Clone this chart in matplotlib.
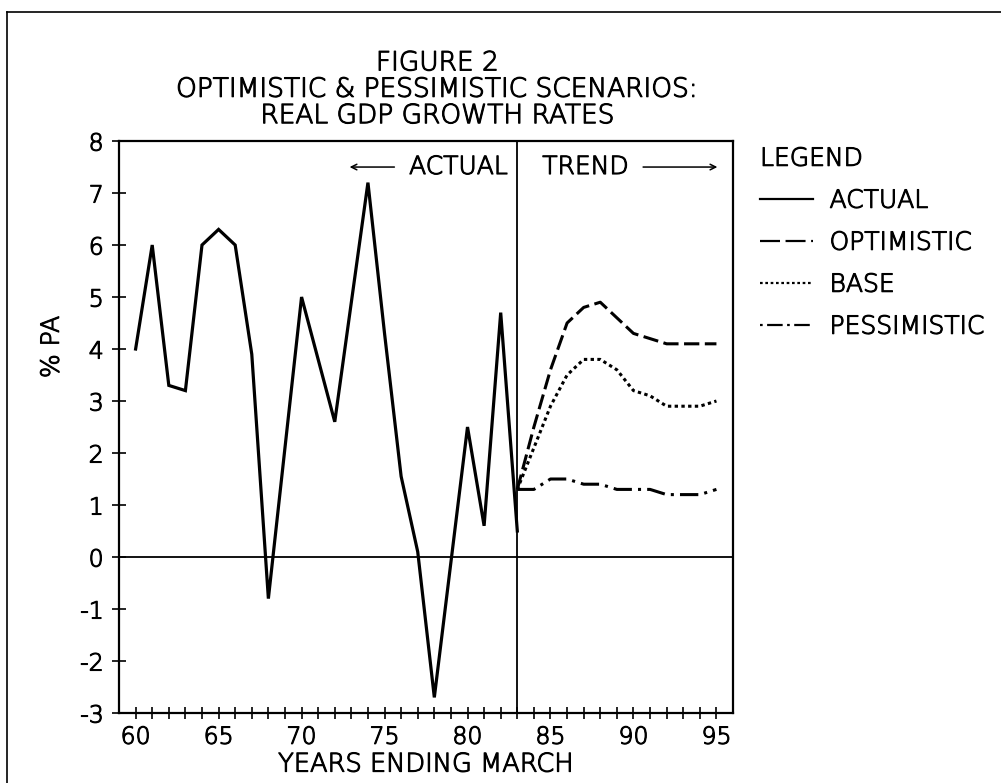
import matplotlib
matplotlib.use("Agg")
import matplotlib.pyplot as plt
import matplotlib.patheffects as pe
from matplotlib.lines import Line2D

# ---- data ----
actual_years = list(range(60, 84))
actual_vals = [4.0, 6.0, 3.3, 3.2, 6.0, 6.3, 6.0, 3.9, -0.8, 2.1, 5.0, 3.8,
               2.6, 4.9, 7.2, 4.3, 1.55, 0.1, -2.7, -0.1, 2.5, 0.6, 4.7, 0.5]

trend_years = list(range(83, 96))
optimistic = [1.3, 2.5, 3.6, 4.5, 4.8, 4.9, 4.6, 4.3, 4.2, 4.1, 4.1, 4.1, 4.1]
base = [1.3, 2.1, 2.9, 3.5, 3.8, 3.8, 3.6, 3.2, 3.1, 2.9, 2.9, 2.9, 3.0]
pessimistic = [1.3, 1.3, 1.5, 1.5, 1.4, 1.4, 1.3, 1.3, 1.3, 1.2, 1.2, 1.2, 1.3]

xticks = [60, 65, 70, 75, 80, 85, 90, 95]
yticks = list(range(-3, 9))
split_year = 83

title_lines = "FIGURE 2\nOPTIMISTIC & PESSIMISTIC SCENARIOS:\nREAL GDP GROWTH RATES"
legend_labels = ["ACTUAL", "OPTIMISTIC", "BASE", "PESSIMISTIC"]

# ---- figure ----
plt.rcParams['font.family'] = ['DejaVu Sans']
plt.rcParams['font.weight'] = 'light'
plt.rcParams['axes.labelweight'] = 'light'
fig = plt.figure(figsize=(10.01, 7.83), dpi=100)
ax = fig.add_axes([0.1189, 0.0894, 0.6134, 0.7305])

ax.plot(actual_years, actual_vals, color='black', lw=2.3, solid_joinstyle='miter')
ax.plot(trend_years, optimistic, color='black', lw=2.2, linestyle=(0, (5, 1.8)))
ax.plot(trend_years, base, color='black', lw=2.2, linestyle=(0, (1.1, 1.1)))
ax.plot(trend_years, pessimistic, color='black', lw=2.2, linestyle=(0, (6, 2, 1, 2)))

ax.axhline(0, color='black', lw=1.3)
ax.axvline(split_year, color='black', lw=1.3)

ax.set_xlim(59, 96)
ax.set_ylim(-3, 8)
ax.set_xticks(range(60, 96), minor=True)
ax.set_xticks(xticks)
ax.set_xticklabels([str(t) for t in xticks])
ax.set_yticks(yticks)
ax.set_yticklabels([str(t) for t in yticks])
ax.tick_params(axis='x', which='both', direction='inout', length=9, width=1.2,
               labelsize=17, pad=4)
ax.tick_params(axis='y', which='both', direction='inout', length=10, width=1.2,
               labelsize=17, pad=6)
for s in ax.spines.values():
    s.set_linewidth(1.6)

texts = []
texts.append(ax.set_xlabel("YEARS ENDING MARCH", fontsize=18.5, labelpad=2))
texts.append(ax.set_ylabel("% PA", fontsize=18))
ax.yaxis.set_label_coords(-0.09, 0.64)

# ACTUAL / TREND annotations
texts.append(ax.annotate("ACTUAL", xy=(split_year, 7.5), xytext=(-7, 0),
                         textcoords='offset points', ha='right', va='center', fontsize=18))
ax.annotate("", xy=(0.371, 0.9545), xytext=(0.453, 0.9545), xycoords='axes fraction',
            arrowprops=dict(arrowstyle='->', lw=1.1, color='black'))
texts.append(ax.annotate("TREND", xy=(split_year, 7.5), xytext=(18, 0),
                         textcoords='offset points', ha='left', va='center', fontsize=18))
ax.annotate("", xy=(0.979, 0.9545), xytext=(0.849, 0.9545), xycoords='axes fraction',
            arrowprops=dict(arrowstyle='->', lw=1.1, color='black'))

texts.append(fig.text(0.437, 0.886, title_lines, ha='center', va='center', fontsize=19,
                      linespacing=1.07))

handles = [Line2D([], [], color='black', lw=1.6),
           Line2D([], [], color='black', lw=1.6, linestyle=(0, (9, 2.5))),
           Line2D([], [], color='black', lw=1.6, linestyle=(0, (1.2, 1.2))),
           Line2D([], [], color='black', lw=1.6, linestyle=(0, (1.2, 2, 7, 2)))]
leg = ax.legend(handles, legend_labels, loc='upper left', bbox_to_anchor=(1.044, 0.99),
                frameon=False, title="LEGEND", fontsize=18, title_fontsize=18,
                handlelength=2.1, handletextpad=0.68, labelspacing=0.72,
                borderpad=0, borderaxespad=0, alignment='left')
texts += leg.get_texts() + [leg.get_title()]
texts += ax.get_xticklabels() + ax.get_yticklabels()

stroke = [pe.withStroke(linewidth=0.8, foreground='black')]
for t in texts:
    t.set_path_effects(stroke)

fig.add_artist(Line2D([0.007, 1.0], [0.985, 0.985], transform=fig.transFigure,
                      color='black', lw=1.2))
fig.add_artist(Line2D([0.007, 0.007], [0.0, 0.985], transform=fig.transFigure,
                      color='black', lw=1.2))

fig.savefig("out.png", dpi=100)
